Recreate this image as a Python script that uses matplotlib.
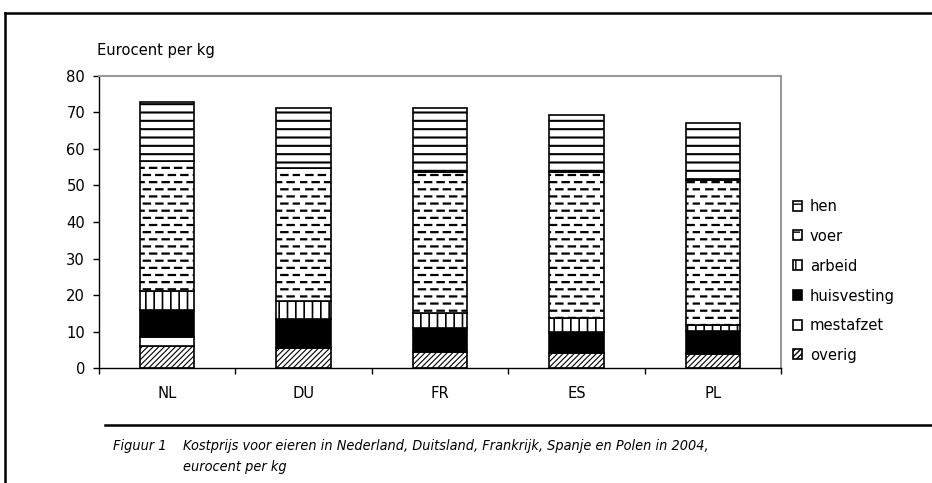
import warnings
warnings.filterwarnings("ignore")
import numpy as np
import matplotlib
matplotlib.use("Agg")
import matplotlib.pyplot as plt
import matplotlib.hatch as mhatch
from matplotlib.path import Path
from matplotlib.lines import Line2D
from matplotlib.patches import Patch

# ---- data ----
categories = ["NL", "DU", "FR", "ES", "PL"]
overig      = [6.1, 5.5, 4.4, 4.1, 3.8]
mestafzet   = [2.5, 0.0, 0.0, 0.0, 0.0]
huisvesting = [7.3, 8.1, 6.5, 5.9, 6.5]
arbeid      = [5.1, 4.9, 4.1, 3.8, 1.6]
voer        = [35.8, 36.2, 38.7, 39.9, 39.6]
hen         = [15.9, 16.6, 17.5, 15.5, 15.7]
series_names = ["overig", "mestafzet", "huisvesting", "arbeid", "voer", "hen"]
yticks = [0, 10, 20, 30, 40, 50, 60, 70, 80]
ylabel = "Eurocent per kg"
caption_num = "Figuur 1"
caption_line1 = "Kostprijs voor eieren in Nederland, Duitsland, Frankrijk, Spanje en Polen in 2004,"
caption_line2 = "eurocent per kg"


# custom staggered-dash hatch for "voer"
class DashRows(mhatch.HatchPatternBase):
    def __init__(self, hatch, density):
        self.rows = 14 if '=' in hatch else 0
        self.per_row = 8
        self.num_lines = self.rows * self.per_row
        self.num_vertices = self.num_lines * 2

    def set_vertices_and_codes(self, vertices, codes):
        k = 0
        for r in range(self.rows):
            y = (r + 0.5) / self.rows
            off = 0.5 if r % 2 else 0.0
            for d in range(self.per_row):
                x0 = (d + off) / self.per_row
                x1 = x0 + 0.5 / self.per_row
                vertices[k] = (x0, y)
                vertices[k + 1] = (x1, y)
                codes[k] = Path.MOVETO
                codes[k + 1] = Path.LINETO
                k += 2


mhatch._hatch_types.append(DashRows)

plt.rcParams['font.family'] = ['DejaVu Sans']
plt.rcParams['font.stretch'] = 'condensed'
plt.rcParams['hatch.color'] = 'black'
FS = 11.8
FS_CAP = 10.4

fig = plt.figure(figsize=(9.32, 4.83), dpi=100)
ax = fig.add_axes([99 / 932, 1 - 368.3 / 483, (781 - 99) / 932, (368.3 - 75.7) / 483])

x = np.arange(len(categories))
styles = {
    "overig":      dict(facecolor='white', hatch='//////', hlw=0.8),
    "mestafzet":   dict(facecolor='white', hatch=None, hlw=1.0),
    "huisvesting": dict(facecolor='black', hatch=None, hlw=1.0),
    "arbeid":      dict(facecolor='white', hatch='||', hlw=1.2),
    "voer":        dict(facecolor='white', hatch='=', hlw=1.6),
    "hen":         dict(facecolor='white', hatch='--', hlw=1.5),
}
data = dict(overig=overig, mestafzet=mestafzet, huisvesting=huisvesting,
            arbeid=arbeid, voer=voer, hen=hen)


def set_hlw(patch, lw):
    if hasattr(patch, "set_hatch_linewidth"):
        try:
            patch.set_hatch_linewidth(lw)
        except Exception:
            pass


bottom = np.zeros(len(categories))
for name in series_names:
    vals = np.array(data[name])
    st = styles[name]
    lws = [1.2 if v > 0 else 0 for v in vals]
    with plt.rc_context({'hatch.linewidth': st['hlw']}):
        bars = ax.bar(x, vals, 0.4, bottom=bottom, edgecolor='black', linewidth=lws,
                      label=name, facecolor=st['facecolor'], hatch=st['hatch'])
    for b in bars:
        set_hlw(b, st['hlw'])
    bottom += vals

ax.set_xlim(-0.5, len(categories) - 0.5)
ax.set_ylim(0, 80)
ax.set_yticks(yticks)
ax.set_yticklabels([str(t) for t in yticks], fontsize=FS)
ax.tick_params(axis='y', direction='out', length=4, width=1, pad=6)

ax.set_xticks(x)
ax.set_xticklabels(categories, fontsize=FS)
ax.set_xticks(np.arange(-0.5, len(categories)), minor=True)
ax.tick_params(axis='x', which='major', length=0, pad=13)
ax.tick_params(axis='x', which='minor', direction='out', length=4, width=1)

for s in ['top', 'right']:
    ax.spines[s].set_color('#999999')
    ax.spines[s].set_linewidth(1.5)
for s in ['left', 'bottom']:
    ax.spines[s].set_color('black')
    ax.spines[s].set_linewidth(1.0)

# legend (reverse order)
handles = []
for name in reversed(series_names):
    st = styles[name]
    with plt.rc_context({'hatch.linewidth': st['hlw']}):
        p = Patch(facecolor=st['facecolor'], edgecolor='black',
                  hatch=st['hatch'], linewidth=1.2, label=name)
    set_hlw(p, st['hlw'])
    handles.append(p)
fig.legend(handles=handles, loc='upper left', bbox_to_anchor=(782 / 932, 1 - 188 / 483),
           frameon=False, fontsize=FS, handlelength=0.55, handleheight=0.55,
           handletextpad=0.45, labelspacing=0.9, borderpad=0.2)

fig.text(97 / 932, 1 - 50 / 483, ylabel, fontsize=FS, va='center', ha='left')

# frame lines
fig.add_artist(Line2D([5 / 932, 1], [1 - 13 / 483, 1 - 13 / 483], color='black', lw=1.8))
fig.add_artist(Line2D([5 / 932, 5 / 932], [0, 1 - 13 / 483], color='black', lw=1.8))
fig.add_artist(Line2D([105 / 932, 1], [1 - 425 / 483, 1 - 425 / 483], color='black', lw=1.8))

fig.text(113 / 932, 1 - 446 / 483, caption_num, fontsize=FS_CAP, style='italic', va='center')
fig.text(183 / 932, 1 - 446 / 483, caption_line1, fontsize=FS_CAP, style='italic', va='center')
fig.text(183 / 932, 1 - 467 / 483, caption_line2, fontsize=FS_CAP, style='italic', va='center')

fig.savefig("out.png", dpi=100)
